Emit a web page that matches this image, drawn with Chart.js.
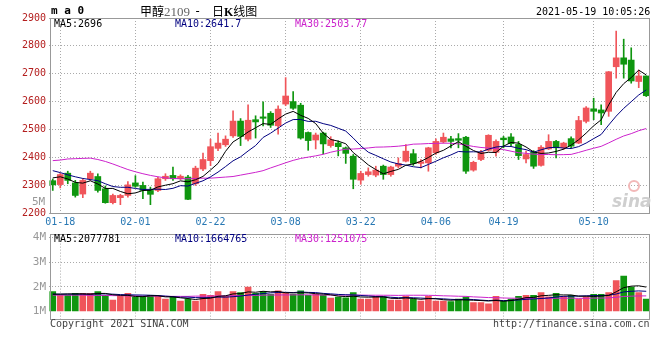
<!DOCTYPE html>
<html>
<head>
<meta charset="utf-8">
<script src="https://cdn.jsdelivr.net/npm/chart.js@4.4.0/dist/chart.umd.min.js"></script>
<style>
body{margin:0;background:#fff;}
#wrap{position:relative;width:660px;height:360px;overflow:hidden;font-family:'DejaVu Sans Mono',monospace;}
canvas{position:absolute;left:0;}
.txt{position:absolute;font-size:10px;line-height:12px;white-space:pre;}
.frame{position:absolute;border:1px solid #999;box-sizing:border-box;pointer-events:none;}
</style>
</head>
<body>
<div id="wrap">
  <canvas id="kchart" width="660" height="228" style="top:0"></canvas>
  <canvas id="vchart" width="660" height="132" style="top:228px"></canvas>
  <div class="frame" style="left:50px;top:18px;width:600px;height:196px"></div>
  <div class="frame" style="left:50px;top:234px;width:600px;height:86px"></div>

  <div class="txt" style="left:51px;top:5px;font-size:11px;font-weight:bold">m a 0</div>
  <div class="txt" style="left:140px;top:3px;font-size:12px;line-height:16px;font-family:'Noto Sans CJK SC',sans-serif">甲醇<span style="font-family:'Liberation Serif',serif;color:#666;font-size:13px">2109</span></div>
  <div class="txt" style="left:194px;top:3px;font-size:12px;line-height:16px">-</div>
  <div class="txt" style="left:212px;top:3px;font-size:12px;line-height:16px;font-family:'Noto Sans CJK SC',sans-serif">日<b style="font-family:'Liberation Serif',serif">K</b>线图</div>
  <div class="txt" style="left:536px;top:6px">2021-05-19 10:05:26</div>

  <div class="txt" style="left:54px;top:18px;color:#000">MA5:2696</div>
  <div class="txt" style="left:175px;top:18px;color:#000080">MA10:2641.7</div>
  <div class="txt" style="left:295px;top:18px;color:#cc22cc">MA30:2503.77</div>

  <div class="txt" style="left:32px;top:196px;font-size:11px;color:#999">5M</div>
  <div style="position:absolute;left:628px;top:180px;width:8px;height:8px;border:2px solid #f2b8b8;border-radius:50%"></div>
  <div class="txt" style="left:612px;top:192px;font-size:17px;line-height:18px;font-style:italic;font-weight:bold;font-family:'DejaVu Sans',sans-serif;color:#cfcfcf">sina</div>

  <div class="txt" style="left:54px;top:233px;color:#000">MA5:2077781</div>
  <div class="txt" style="left:175px;top:233px;color:#000080">MA10:1664765</div>
  <div class="txt" style="left:295px;top:233px;color:#cc22cc">MA30:1251075</div>

  <div class="txt" style="left:50px;top:318px;color:#444">Copyright 2021 SINA.COM</div>
  <div class="txt" style="left:493px;top:318px;color:#444">http://finance.sina.com.cn</div>
</div>
<script>
// trading days shown (categories)
const dates = ['01-15','01-18','01-19','01-20','01-21','01-22','01-25','01-26','01-27','01-28','01-29',
  '02-01','02-02','02-03','02-04','02-05','02-08','02-09','02-10','02-18','02-19',
  '02-22','02-23','02-24','02-25','02-26','03-01','03-02','03-03','03-04','03-05',
  '03-08','03-09','03-10','03-11','03-12','03-15','03-16','03-17','03-18','03-19',
  '03-22','03-23','03-24','03-25','03-26','03-29','03-30','03-31','04-01','04-02',
  '04-06','04-07','04-08','04-09','04-12','04-13','04-14','04-15','04-16',
  '04-19','04-20','04-21','04-22','04-23','04-26','04-27','04-28','04-29','04-30','05-06','05-07',
  '05-10','05-11','05-12','05-13','05-14','05-17','05-18','05-19'];
// which dates get a label + grid line
const labelIdx = [1, 11, 21, 31, 41, 51, 60, 72];

const opens = [2316,2302,2343,2308,2268,2323,2331,2287,2237,2255,
  2263,2308,2299,2281,2281,2323,2335,2323,2329,2305,
  2358,2388,2432,2445,2477,2530,2465,2535,2545,2558,
  2513,2591,2600,2587,2489,2462,2487,2442,2451,2434,
  2404,2318,2338,2336,2368,2338,2368,2386,2413,2378,
  2380,2416,2455,2466,2467,2472,2354,2392,2425,2418,
  2469,2473,2446,2394,2418,2371,2430,2457,2434,2467,
  2451,2529,2574,2570,2565,2725,2757,2749,2672,2692];
const highs = [2322,2342,2350,2317,2323,2350,2341,2297,2268,2267,
  2313,2334,2311,2293,2329,2341,2365,2337,2335,2368,
  2415,2465,2487,2477,2567,2539,2588,2549,2599,2564,
  2585,2686,2636,2594,2491,2487,2490,2474,2459,2437,
  2410,2350,2362,2368,2372,2368,2398,2446,2428,2392,
  2436,2466,2487,2475,2485,2475,2386,2425,2481,2463,
  2475,2485,2457,2422,2424,2442,2481,2461,2454,2473,
  2547,2582,2612,2588,2708,2853,2824,2793,2713,2692];
const lows = [2281,2290,2305,2257,2255,2317,2275,2235,2233,2230,
  2257,2292,2251,2230,2277,2317,2317,2320,2248,2299,
  2352,2370,2424,2439,2471,2442,2459,2469,2513,2507,
  2483,2585,2572,2465,2425,2430,2412,2436,2405,2378,
  2287,2303,2332,2330,2321,2332,2362,2383,2371,2362,
  2350,2410,2451,2434,2434,2342,2350,2388,2422,2404,
  2434,2442,2392,2380,2360,2368,2428,2398,2428,2434,
  2449,2523,2535,2517,2547,2684,2684,2666,2650,2618];
const closes = [2301,2338,2317,2263,2317,2343,2281,2237,2263,2263,
  2301,2296,2281,2267,2323,2332,2323,2332,2249,2361,
  2392,2438,2451,2465,2530,2475,2533,2527,2540,2515,
  2573,2620,2576,2469,2460,2480,2448,2463,2438,2414,
  2321,2342,2348,2354,2338,2365,2378,2422,2378,2384,
  2434,2457,2472,2457,2461,2350,2382,2418,2479,2457,
  2463,2449,2406,2410,2368,2436,2457,2434,2451,2440,
  2532,2577,2565,2559,2707,2757,2734,2674,2692,2621];
// volume, millions (read against the volume axis)
const vols = [1.81,1.65,1.65,1.73,1.73,1.73,1.81,1.65,1.46,1.61,
  1.73,1.58,1.61,1.65,1.61,1.50,1.58,1.42,1.50,1.42,
  1.69,1.65,1.80,1.61,1.80,1.76,1.99,1.73,1.80,1.69,
  1.84,1.73,1.69,1.84,1.65,1.69,1.65,1.54,1.58,1.55,
  1.76,1.50,1.50,1.61,1.59,1.46,1.46,1.61,1.50,1.42,
  1.61,1.42,1.42,1.40,1.50,1.58,1.36,1.36,1.31,1.61,
  1.42,1.50,1.61,1.65,1.65,1.76,1.59,1.73,1.61,1.65,
  1.50,1.59,1.69,1.69,1.76,2.25,2.44,1.99,1.76,1.50];

// MA values at the left edge (need days before the window)
const ma5Head = [2326,2330,2322,2310];
const ma10Head = [2352,2345,2337,2330,2324,2320,2316,2305,2295];
const ma30Head = [2388,2390,2394,2395,2396,2397,2392,2385,2376,2366,2356,2348,2341,2335,2330,
  2326,2324,2323,2323,2324,2325,2325,2327,2329,2331,2336,2341,2346,2352];
const vma5Head = [1.70,1.70,1.71,1.71];
const vma10Head = [1.70,1.70,1.70,1.70,1.70,1.70,1.71,1.71,1.70];
const vma30Head = [1.66,1.66,1.66,1.66,1.66,1.65,1.65,1.65,1.64,1.64,1.63,1.63,1.62,1.62,1.62,
  1.61,1.61,1.61,1.61,1.62,1.62,1.62,1.63,1.63,1.64,1.64,1.65,1.65,1.66];

const upColor = '#f0555a', downColor = '#0f960f';
const gridColor = '#aaa';
const monoFont = "'DejaVu Sans Mono', monospace";

function movingAvg(src, n, head) {
    return src.map((v, i) => {
        if (i < n - 1) return head[i];
        let s = 0;
        for (let k = i - n + 1; k <= i; k++) s += src[k];
        return s / n;
    });
}

const colors = closes.map((c, i) => c >= opens[i] ? upColor : downColor);
const bodies = opens.map((o, i) => [o, closes[i]]);
const wicks = lows.map((l, i) => [l, highs[i]]);

function maLine(data, color) {
    return { type: 'line', data: data, borderColor: color, borderWidth: 1, pointRadius: 0, tension: 0, fill: false, order: 0 };
}

function xAxis(showLabels, height) {
    return {
        offset: true,
        grid: { offset: false, color: gridColor, drawTicks: false },
        border: { display: false, dash: [1, 2] },
        ticks: { display: showLabels, color: '#2878b4', font: { family: monoFont, size: 10 }, padding: 3, maxRotation: 0, autoSkip: false },
        afterBuildTicks: (axis) => { axis.ticks = labelIdx.map(v => ({ value: v })); },
        afterFit: (axis) => { axis.height = height; }
    };
}

Chart.defaults.font.family = monoFont;

//price chart
var kctx = document.getElementById('kchart').getContext('2d');
var kchart = new Chart(kctx, {
    type: 'bar',
    data: {
        labels: dates,
        datasets: [
            maLine(movingAvg(closes, 5, ma5Head), '#000'),
            maLine(movingAvg(closes, 10, ma10Head), '#000080'),
            maLine(movingAvg(closes, 30, ma30Head), '#cc22cc'),
            { data: wicks, backgroundColor: colors, barThickness: 1, grouped: false, order: 2 },
            { data: bodies, backgroundColor: colors, barThickness: 6, minBarLength: 1, grouped: false, order: 1 }
        ]
    },
    options: {
        responsive: false,
        animation: false,
        events: [],
        layout: { padding: { top: 18, right: 10, left: 0, bottom: 0 } },
        plugins: { legend: { display: false }, tooltip: { enabled: false } },
        scales: {
            x: xAxis(true, 15),
            y: {
                min: 2200, max: 2900,
                grid: { color: gridColor, drawTicks: false },
                border: { display: false, dash: [1, 2] },
                ticks: { stepSize: 100, color: '#b41e1e', font: { family: monoFont, size: 10 }, padding: 3, callback: (v) => String(v) },
                afterFit: (axis) => { axis.width = 49; }
            }
        }
    }
});

//volume chart
var vctx = document.getElementById('vchart').getContext('2d');
var vchart = new Chart(vctx, {
    type: 'bar',
    data: {
        labels: dates,
        datasets: [
            maLine(movingAvg(vols, 5, vma5Head), '#000'),
            maLine(movingAvg(vols, 10, vma10Head), '#000080'),
            maLine(movingAvg(vols, 30, vma30Head), '#cc22cc'),
            { data: vols, base: 1, backgroundColor: colors, barThickness: 6, grouped: false, order: 1 }
        ]
    },
    options: {
        responsive: false,
        animation: false,
        events: [],
        layout: { padding: { top: 6, right: 10, left: 0, bottom: 0 } },
        plugins: { legend: { display: false }, tooltip: { enabled: false } },
        scales: {
            x: xAxis(false, 41),
            y: {
                min: 0.69, max: 4,
                grid: { color: (c) => c.tick && c.tick.value === 1 ? 'transparent' : gridColor, drawTicks: false },
                border: { display: false, dash: [1, 2] },
                ticks: { color: '#999', font: { family: monoFont, size: 11 }, padding: 3, callback: (v) => v + 'M' },
                afterBuildTicks: (axis) => { axis.ticks = [1, 2, 3, 4].map(v => ({ value: v })); },
                afterFit: (axis) => { axis.width = 49; }
            }
        }
    }
});
</script>
</body>
</html>
